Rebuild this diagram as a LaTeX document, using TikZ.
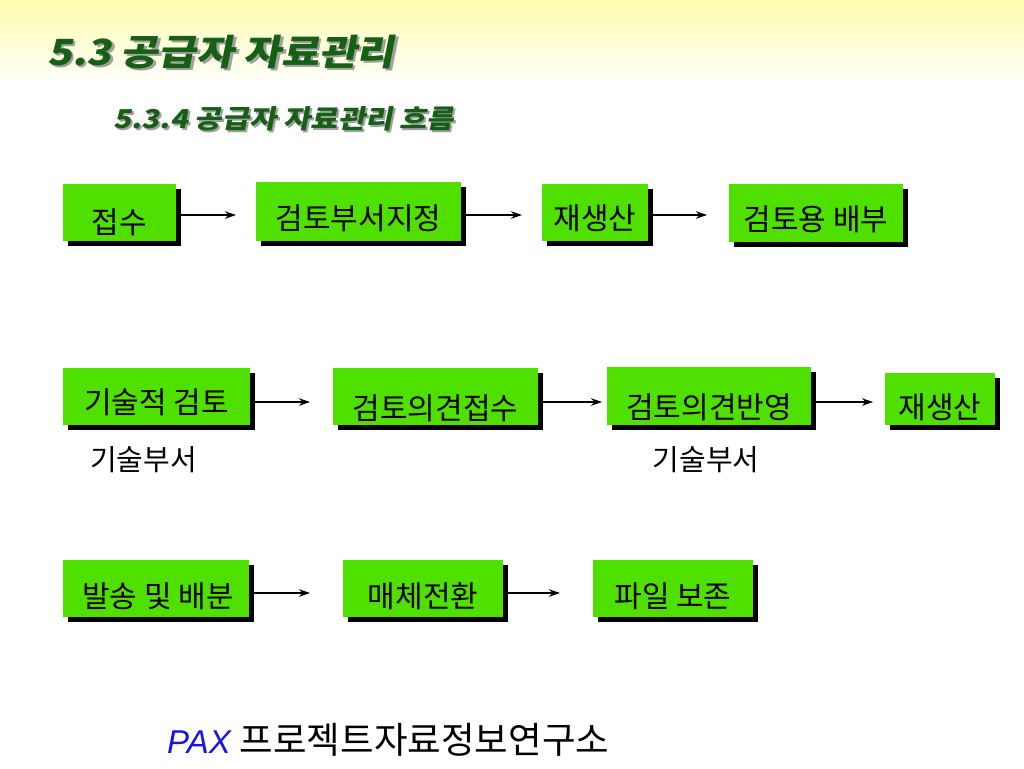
\documentclass[tikz,border=0pt]{standalone}
\usepackage{fontspec}
\usetikzlibrary{shadows,arrows.meta}
\newfontfamily\kr{Noto Sans CJK KR}
\newfontfamily\krtitle[FakeSlant=0.2,FakeStretch=1.14]{Noto Sans CJK KR}
\newfontfamily\paxfont{Liberation Sans}
\definecolor{boxgreen}{RGB}{80,224,0}
\definecolor{titlegreen}{RGB}{22,96,22}
\definecolor{titleshadow}{RGB}{160,160,160}
\definecolor{topyellow}{RGB}{253,253,176}
\definecolor{paxblue}{RGB}{20,20,235}
\tikzset{
  box/.style={fill=boxgreen, inner sep=0pt, outer sep=0pt, minimum height=57pt,
    font=\kr\fontsize{30}{34}\selectfont, text depth=0pt, text height=#1,
    drop shadow={shadow xshift=4.5pt, shadow yshift=-5pt, fill=black, opacity=1}},
  box/.default=38pt,
  arr/.style={line width=1.2pt, -{Stealth[length=11pt,width=7.5pt]}},
  dept/.style={font=\kr\fontsize{29}{32}\selectfont, inner sep=0pt},
  ttl/.style={anchor=base west, inner sep=0pt, font=\krtitle\bfseries\fontsize{36}{42}\selectfont},
  subttl/.style={anchor=base west, inner sep=0pt, font=\krtitle\bfseries\fontsize{26}{31}\selectfont},
}
\begin{document}
\begin{tikzpicture}[x=1pt,y=-1pt]
\useasboundingbox (0,0) rectangle (1024,768);
\shade[top color=topyellow, bottom color=white] (0,0) rectangle (1024,88);
% titles
\node[ttl, text=titleshadow] (t1s) at (49.5,67.5) {5.3 공급자 자료관리};
\node[ttl, text=titlegreen] (t1) at (47,65) {5.3 공급자 자료관리};
\node[subttl, text=titleshadow] (t2s) at (115,130) {5.3.4 공급자 자료관리 흐름};
\node[subttl, text=titlegreen] (t2) at (113,128) {5.3.4 공급자 자료관리 흐름};
% row 1
\node[box=42.8pt, minimum width=113pt] (A1) at (119.5,212.5) {접수};
\node[box=36.8pt, minimum width=205pt, minimum height=59pt] (A2) at (358.5,211.5) {검토부서지정};
\node[box=34.8pt, minimum width=106pt] (A3) at (595,212.5) {재생산};
\node[box=35.8pt, minimum width=174pt, minimum height=58pt] (A4) at (816,213) {검토용 배부};
\coordinate (e1) at (236,215);
\coordinate (e2) at (522,215);
\coordinate (e3) at (707,215);
\draw[arr] ([xshift=4.5pt]A1.east |- e1) -- (e1);
\draw[arr] ([xshift=4.5pt]A2.east |- e2) -- (e2);
\draw[arr] ([xshift=4.5pt]A3.east |- e3) -- (e3);
% row 2
\node[box=34.8pt, minimum width=187pt] (B1) at (156.5,396.5) {기술적 검토};
\node[box=46.8pt, minimum width=205pt] (B2) at (435.5,396.5) {검토의견접수};
\node[box=44.8pt, minimum width=204pt, minimum height=58pt] (B3) at (709,396) {검토의견반영};
\node[box=39.8pt, minimum width=110pt, minimum height=52pt] (B4) at (940,399) {재생산};
\coordinate (f1) at (310,402);
\coordinate (f2) at (602,402);
\coordinate (f3) at (873,402);
\draw[arr] ([xshift=4.5pt]B1.east |- f1) -- (f1);
\draw[arr] ([xshift=4.5pt]B2.east |- f2) -- (f2);
\draw[arr] ([xshift=4.5pt]B3.east |- f3) -- (f3);
\node[dept] (L1) at (143.5,460) {기술부서};
\node[dept] (L2) at (706,460) {기술부서};
% row 3
\node[box=37.8pt, minimum width=186pt] (C1) at (156,588.5) {\hspace*{4pt}발송 및 배분};
\node[box=38.8pt, minimum width=160pt] (C2) at (423,588.5) {매체전환};
\node[box=38.8pt, minimum width=160pt] (C3) at (673,588.5) {파일 보존};
\coordinate (g1) at (310,593);
\coordinate (g2) at (560,593);
\draw[arr] ([xshift=4.5pt]C1.east |- g1) -- (g1);
\draw[arr] ([xshift=4.5pt]C2.east |- g2) -- (g2);
% footer
\node[anchor=base west, inner sep=0pt] (foot) at (167,753)
  {{\paxfont\itshape\color{paxblue}\fontsize{33}{38}\selectfont PAX}\hspace{9pt}{\kr\fontsize{36.5}{42}\selectfont 프로젝트자료정보연구소}};
\end{tikzpicture}
\end{document}
